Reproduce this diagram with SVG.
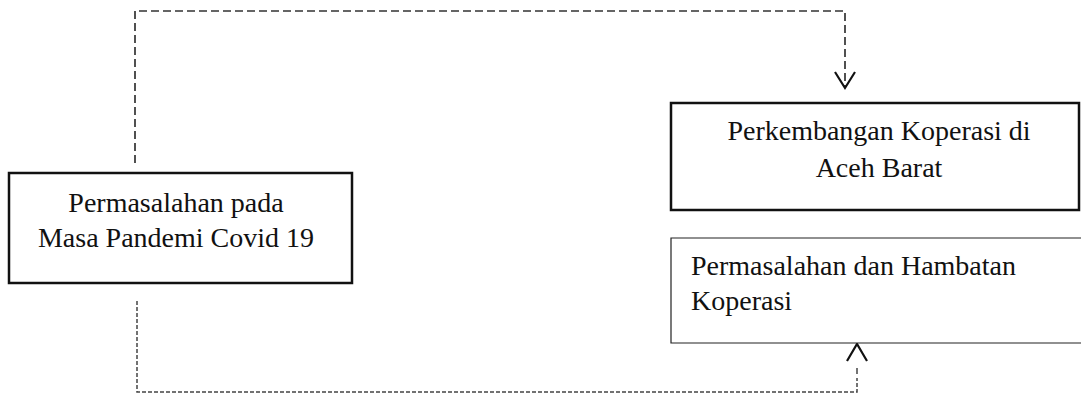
<svg xmlns="http://www.w3.org/2000/svg" width="1081" height="394" viewBox="0 0 1081 394">
  <style>
    .label { font-family: "Liberation Serif", "Times New Roman", serif; font-size: 28px; fill: #111; }
    .box-thick { fill: #fff; stroke: #111; stroke-width: 2.5; }
    .box-thin { fill: #fff; stroke: #222; stroke-width: 1.2; }
    .link-long { fill: none; stroke: #333; stroke-width: 1.7; stroke-dasharray: 8 4; }
    .link-short { fill: none; stroke: #444; stroke-width: 1.5; stroke-dasharray: 4 2; }
    .head { fill: none; stroke: #111; stroke-width: 2.2; }
  </style>
  <rect width="1081" height="394" fill="#fff"/>

  <g id="connectors">
    <!-- upper route: problems box to development box -->
    <path class="link-long" d="M135,163 V11 H845 V86"/>
    <polyline class="head" points="835,72 845,88 855,72"/>
    <!-- lower route: problems box to obstacles box -->
    <path class="link-short" d="M137,301 V392 H857 V378"/>
    <path class="link-short" d="M857,374 V368" style="stroke-dasharray:none"/>
    <polyline class="head" points="847,361 857,344 867,361"/>
  </g>

  <g id="node-covid">
    <rect class="box-thick" x="9" y="173" width="343" height="110"/>
    <text class="label" x="176" y="212" text-anchor="middle">Permasalahan pada</text>
    <text class="label" x="176" y="247" text-anchor="middle">Masa Pandemi Covid 19</text>
  </g>

  <g id="node-perkembangan">
    <rect class="box-thick" x="671" y="103" width="408" height="107"/>
    <text class="label" x="879" y="140" text-anchor="middle">Perkembangan Koperasi di</text>
    <text class="label" x="879" y="177" text-anchor="middle">Aceh Barat</text>
  </g>

  <g id="node-hambatan">
    <path class="box-thin" d="M1082,238 H671 V343 H1082"/>
    <text class="label" x="691" y="275">Permasalahan dan Hambatan</text>
    <text class="label" x="691" y="310">Koperasi</text>
  </g>
</svg>
